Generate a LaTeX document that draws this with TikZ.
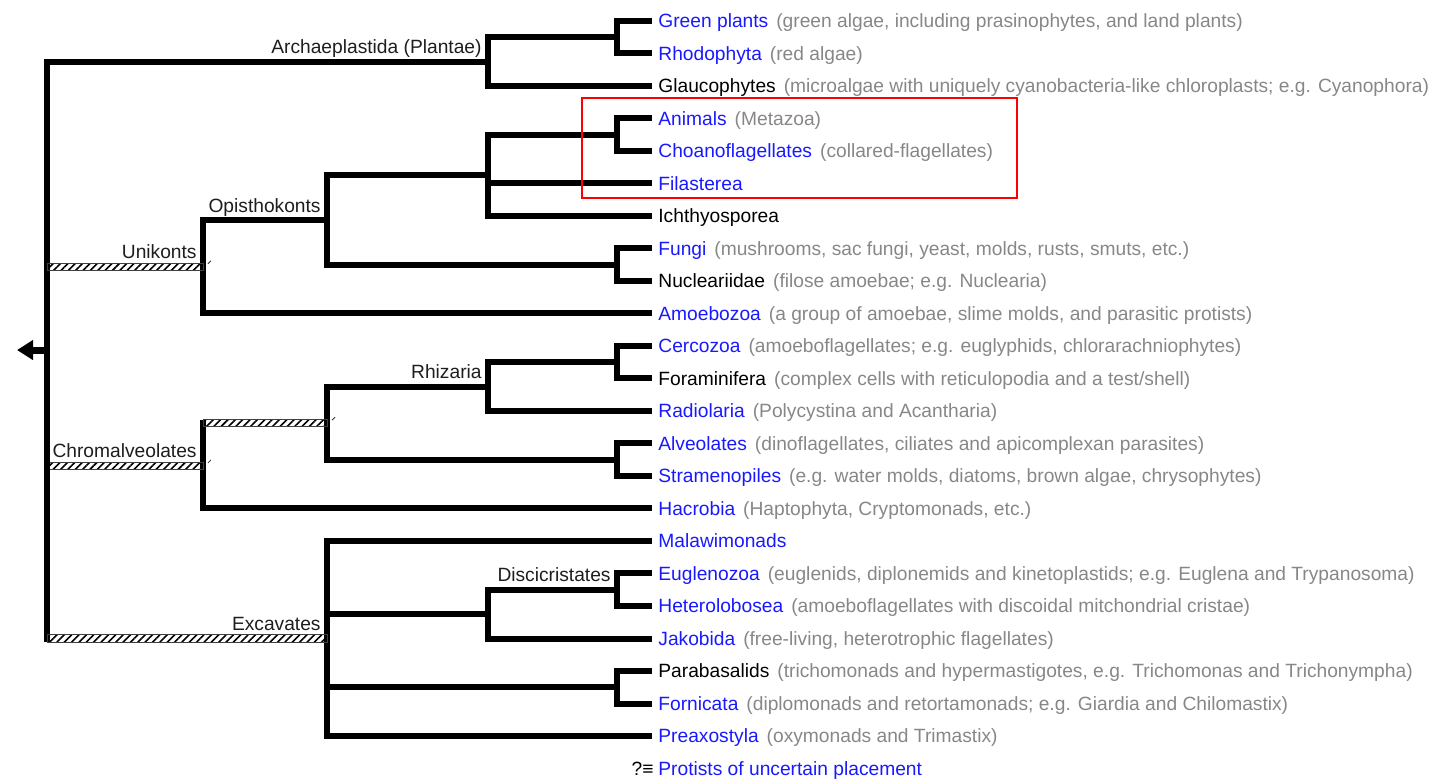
\documentclass[tikz,border=0pt]{standalone}
\usepackage{fontspec}
\setmainfont{Liberation Sans}
\usetikzlibrary{calc,arrows.meta,patterns.meta}
\definecolor{nameblue}{RGB}{25,25,255}
\definecolor{descgray}{RGB}{135,135,135}
\definecolor{labelgray}{RGB}{30,30,30}
\newcommand{\taxname}[1]{\textcolor{nameblue}{#1}}
\newcommand{\taxdesc}[1]{\hspace{4pt}\textcolor{descgray}{#1}}
\tikzset{
  br/.style={line width=3pt, line join=miter, draw=black},
  brv/.style={line width=3pt, line cap=rect, draw=black},
  hatchbar/.style={draw=black!75, line width=0.4pt, pattern color=black,
    pattern={Lines[angle=45,distance=2.6pt,line width=0.8pt]}},
  tickmark/.style={draw=black!80, line width=0.4pt},
  leaf/.style={anchor=base west, inner sep=0pt, font=\fontsize{9.6}{11}\selectfont,
    xshift=3pt, yshift=-3.35pt},
  qmark/.style={anchor=base east, inner sep=0pt, font=\fontsize{9.6}{11}\selectfont,
    xshift=-2pt},
  clade/.style={anchor=base east, inner sep=0pt, font=\fontsize{9.6}{11}\selectfont,
    text=labelgray, xshift=-3pt, yshift=4pt},
  hlbox/.style={draw=red, line width=1pt},
}
\begin{document}
\begin{tikzpicture}[x=0.5pt,y=-0.5pt]
\useasboundingbox (0,0) rectangle (1452,780);

% leaf end points
\foreach \i in {0,...,23} {
  \coordinate (l\i) at (652,{21+32.5*\i});
}
% internal nodes
\coordinate (GR)    at (617,37.25);
\coordinate (Arch)  at (488,61.6);
\coordinate (AC)    at (617,134.75);
\coordinate (Holo)  at (488,175.4);
\coordinate (FN)    at (617,264.75);
\coordinate (Opis)  at (327,220.1);
\coordinate (Unik)  at (203,266.8);
\coordinate (CF)    at (617,362.25);
\coordinate (Rhiz)  at (488,386.6);
\coordinate (AS)    at (617,459.75);
\coordinate (SAR)   at (327,423.2);
\coordinate (Chrom) at (203,465.85);
\coordinate (EH)    at (617,589.75);
\coordinate (Disc)  at (488,614.1);
\coordinate (PF)    at (617,687.25);
\coordinate (Exc)   at (327,638.5);
\coordinate (Root)  at (47,350.05);
\coordinate (RootTip) at (17,350.05);

% solid branches
\foreach \c/\p in {l0/GR,l1/GR,GR/Arch,l2/Arch,Arch/Root,
  l3/AC,l4/AC,AC/Holo,l5/Holo,l6/Holo,Holo/Opis,l7/FN,l8/FN,FN/Opis,
  Opis/Unik,l9/Unik,
  l10/CF,l11/CF,CF/Rhiz,l12/Rhiz,Rhiz/SAR,l13/AS,l14/AS,AS/SAR,l15/Chrom,
  l16/Exc,l17/EH,l18/EH,EH/Disc,l19/Disc,Disc/Exc,l20/PF,l21/PF,PF/Exc,l22/Exc} {
  \draw[br] (\c) -| (\p);
}

% hatched branches
\foreach \c/\p in {Unik/Root,SAR/Chrom,Chrom/Root,Exc/Root} {
  \draw[brv] (\p |- \c) -- (\p);
  \path[hatchbar] ($(\p |- \c)+(0,-3.7)$) rectangle ($(\c)+(0,3.7)$);
}
\foreach \c in {Unik,SAR,Chrom} {
  \draw[tickmark] ($(\c)+(5,-3)$) -- ($(\c)+(8,-6)$);
}

% root arrow
\draw[line width=3.5pt, -{Triangle[length=8pt,width=9.5pt]}] (Root) -- (RootTip);

% clade labels
\node[clade] (lArch)  at (Arch)  {Archaeplastida (Plantae)};
\node[clade] (lOpis)  at (Opis)  {Opisthokonts};
\node[clade] (lUnik)  at (Unik)  {Unikonts};
\node[clade] (lRhiz)  at (Rhiz)  {Rhizaria};
\node[clade] (lChrom) at (Chrom) {Chromalveolates};
\node[clade] (lDisc)  at (EH)    {Discicristates};
\node[clade] (lExc)   at (Exc)   {Excavates};

% leaf labels
\node[leaf] (t0) at (l0) {\taxname{Green plants}\taxdesc{(green algae, including prasinophytes, and land plants)}};
\node[leaf] (t1) at (l1) {\taxname{Rhodophyta}\taxdesc{(red algae)}};
\node[leaf] (t2) at (l2) {Glaucophytes\taxdesc{(microalgae with uniquely cyanobacteria-like chloroplasts; e.g. Cyanophora)}};
\node[leaf] (t3) at (l3) {\taxname{Animals}\taxdesc{(Metazoa)}};
\node[leaf] (t4) at (l4) {\taxname{Choanoflagellates}\taxdesc{(collared-flagellates)}};
\node[leaf] (t5) at (l5) {\taxname{Filasterea}};
\node[leaf] (t6) at (l6) {Ichthyosporea};
\node[leaf] (t7) at (l7) {\taxname{Fungi}\taxdesc{(mushrooms, sac fungi, yeast, molds, rusts, smuts, etc.)}};
\node[leaf] (t8) at (l8) {Nucleariidae\taxdesc{(filose amoebae; e.g. Nuclearia)}};
\node[leaf] (t9) at (l9) {\taxname{Amoebozoa}\taxdesc{(a group of amoebae, slime molds, and parasitic protists)}};
\node[leaf] (t10) at (l10) {\taxname{Cercozoa}\taxdesc{(amoeboflagellates; e.g. euglyphids, chlorarachniophytes)}};
\node[leaf] (t11) at (l11) {Foraminifera\taxdesc{(complex cells with reticulopodia and a test/shell)}};
\node[leaf] (t12) at (l12) {\taxname{Radiolaria}\taxdesc{(Polycystina and Acantharia)}};
\node[leaf] (t13) at (l13) {\taxname{Alveolates}\taxdesc{(dinoflagellates, ciliates and apicomplexan parasites)}};
\node[leaf] (t14) at (l14) {\taxname{Stramenopiles}\taxdesc{(e.g. water molds, diatoms, brown algae, chrysophytes)}};
\node[leaf] (t15) at (l15) {\taxname{Hacrobia}\taxdesc{(Haptophyta, Cryptomonads, etc.)}};
\node[leaf] (t16) at (l16) {\taxname{Malawimonads}};
\node[leaf] (t17) at (l17) {\taxname{Euglenozoa}\taxdesc{(euglenids, diplonemids and kinetoplastids; e.g. Euglena and Trypanosoma)}};
\node[leaf] (t18) at (l18) {\taxname{Heterolobosea}\taxdesc{(amoeboflagellates with discoidal mitchondrial cristae)}};
\node[leaf] (t19) at (l19) {\taxname{Jakobida}\taxdesc{(free-living, heterotrophic flagellates)}};
\node[leaf] (t20) at (l20) {Parabasalids\taxdesc{(trichomonads and hypermastigotes, e.g. Trichomonas and Trichonympha)}};
\node[leaf] (t21) at (l21) {\taxname{Fornicata}\taxdesc{(diplomonads and retortamonads; e.g. Giardia and Chilomastix)}};
\node[leaf] (t22) at (l22) {\taxname{Preaxostyla}\taxdesc{(oxymonads and Trimastix)}};
\node[leaf] (t23) at (l23) {\taxname{Protists of uncertain placement}};
\node[qmark] (q23) at (t23.base west) {?≡};

% highlight box
\coordinate (hlA) at (582,98);
\coordinate (hlB) at (1017,198);
\draw[hlbox] (hlA) rectangle (hlB);
\end{tikzpicture}
\end{document}
